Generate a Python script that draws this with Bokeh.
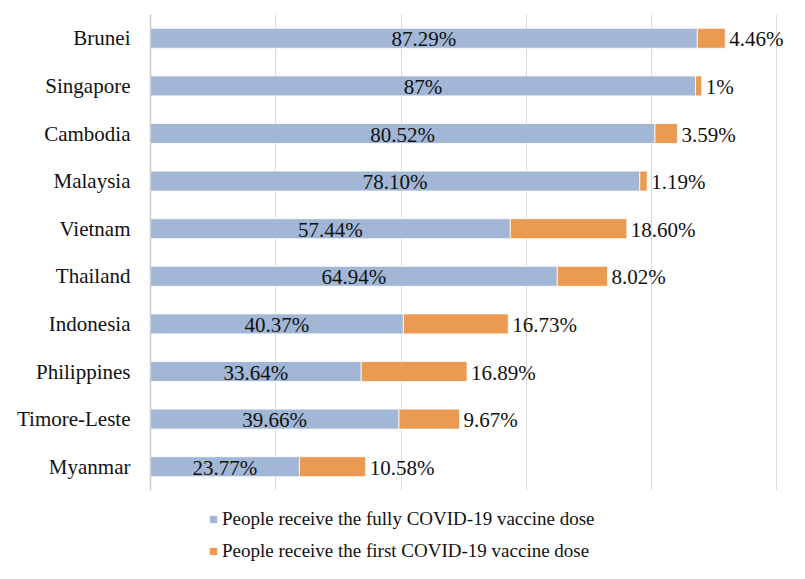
from bokeh.plotting import figure
from bokeh.models import ColumnDataSource, LabelSet, FixedTicker, Range1d
from bokeh.core.properties import value
from bokeh.embed import file_html
from bokeh.resources import INLINE

countries = ["Brunei", "Singapore", "Cambodia", "Malaysia", "Vietnam", "Thailand",
             "Indonesia", "Philippines", "Timore-Leste", "Myanmar"]
fully = [87.29, 87.0, 80.52, 78.10, 57.44, 64.94, 40.37, 33.64, 39.66, 23.77]
first = [4.46, 1.0, 3.59, 1.19, 18.60, 8.02, 16.73, 16.89, 9.67, 10.58]
fully_text = ["87.29%", "87%", "80.52%", "78.10%", "57.44%", "64.94%",
              "40.37%", "33.64%", "39.66%", "23.77%"]
first_text = ["4.46%", "1%", "3.59%", "1.19%", "18.60%", "8.02%",
              "16.73%", "16.89%", "9.67%", "10.58%"]
series_names = ["People receive the fully COVID-19 vaccine dose",
                "People receive the first COVID-19 vaccine dose"]
grid_ticks = [0, 20, 40, 60, 80, 100]

BLUE = "#A2B7D6"
ORANGE = "#EB9A52"
FONT = "Liberation Serif"
TXT = "#111111"

n = len(countries)
ypos = [n - i - 0.5 for i in range(n)]  # category centres, top to bottom

source = ColumnDataSource(dict(
    country=countries,
    y=ypos,
    fully=fully,
    first=first,
    fully_mid=[f / 2 for f in fully],
    total=[a + b for a, b in zip(fully, first)],
    fully_text=fully_text,
    first_text=first_text,
))

# 476 px for the 10 categories, 73 px more below for the legend
cat_px = 476.0
legend_px = 73.0
p = figure(width=789, height=563, output_backend="svg", toolbar_location=None,
           x_range=Range1d(0, 102), y_range=Range1d(-n * legend_px / cat_px, n),
           min_border_left=150, min_border_right=0, min_border_top=14,
           min_border_bottom=0)
p.outline_line_color = None

renderers = p.hbar_stack(["fully", "first"], y="y", height=0.42,
                         color=[BLUE, ORANGE], line_color="white", line_width=0.8,
                         source=source, legend_label=series_names)

p.add_layout(LabelSet(x="fully_mid", y="y", text="fully_text", source=source,
                      text_align="center", text_baseline="middle",
                      text_font=value(FONT), text_font_size="21px", text_color=TXT,
                      y_offset=-1))
p.add_layout(LabelSet(x="total", y="y", text="first_text", source=source,
                      text_align="left", text_baseline="middle", x_offset=4,
                      text_font=value(FONT), text_font_size="21px", text_color=TXT,
                      y_offset=-1))

p.xaxis.visible = False
p.xgrid.ticker = FixedTicker(ticks=grid_ticks)
p.xgrid.grid_line_color = "#d9d9d9"
p.xgrid.grid_line_width = 1
p.xgrid.cross_bounds = (0, n)
p.ygrid.grid_line_color = None

p.yaxis.ticker = FixedTicker(ticks=ypos)
p.yaxis.major_label_overrides = {y: c for y, c in zip(ypos, countries)}
p.yaxis.bounds = (0, n)
p.yaxis.axis_line_color = "#cccccc"
p.yaxis.axis_line_width = 1.5
p.yaxis.major_tick_line_color = None
p.yaxis.minor_tick_line_color = None
p.yaxis.major_tick_out = 0
p.yaxis.major_label_standoff = 20
p.yaxis.major_label_text_font = FONT
p.yaxis.major_label_text_font_size = "21px"
p.yaxis.major_label_text_color = TXT

leg = p.legend[0]
leg.location = (58, 1)
leg.border_line_color = None
leg.background_fill_alpha = 0
leg.padding = 0
leg.margin = 0
leg.spacing = 10
leg.glyph_width = 10
leg.glyph_height = 10
leg.label_height = 20
leg.label_standoff = 4
leg.label_text_font = FONT
leg.label_text_font_size = "19px"
leg.label_text_color = TXT

open("out.html", "w").write(file_html(p, INLINE))
